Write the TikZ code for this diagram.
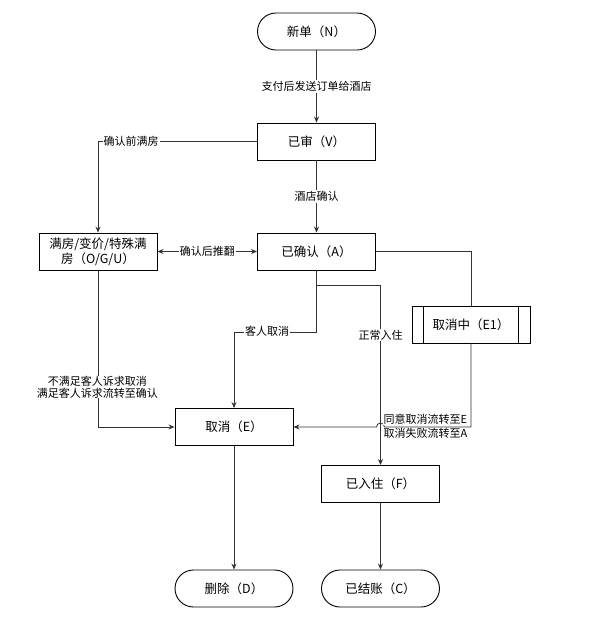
\documentclass[tikz,border=0pt]{standalone}
\usepackage{fontspec}
\setmainfont{Noto Sans CJK SC}
\usetikzlibrary{arrows.meta,calc}
\begin{document}
\begin{tikzpicture}[x=1pt,y=-1pt,
  box/.style={draw=black,line width=0.9pt,minimum width=118pt,minimum height=37pt,inner sep=0pt,font=\fontsize{12.5}{15}\selectfont,align=center},
  term/.style={box,rounded corners=18.5pt},
  conn/.style={draw=black!80,line width=0.8pt,-{Stealth[length=6pt,width=5pt]}},
  wire/.style={draw=black!80,line width=0.8pt},
  lbl/.style={fill=white,inner sep=1pt,font=\fontsize{11}{13}\selectfont,align=center}]
\useasboundingbox (0,0) rectangle (601,625);

% nodes
\node[term] (N) at (316.5,31.5) {新单（N）};
\node[box] (V) at (316.5,141.5) {已审（V）};
\node[box] (A) at (316.5,251.5) {已确认（A）};
\node[box] (O) at (98,251.5) {满房/变价/特殊满\\房（O/G/U）};
\node[box] (E1) at (471,324.5) {取消中（E1）};
\draw[line width=0.9pt] ([xshift=12pt]E1.north west) -- ([xshift=12pt]E1.south west);
\draw[line width=0.9pt] ([xshift=-12pt]E1.north east) -- ([xshift=-12pt]E1.south east);
\node[box] (E) at (234,427) {取消（E）};
\node[box] (F) at (380.5,484) {已入住（F）};
\node[term] (D) at (234,588.5) {删除（D）};
\node[term] (C) at (380.5,588.5) {已结账（C）};

% helper coordinates
\coordinate (aF) at ($(A.south)+(0,15)$);
\coordinate (aE) at ($(A.south)+(0,61.5)$);
\coordinate (jR) at (384.5,427);

% connectors
\draw[conn] (N) -- (V) node[lbl,midway] {支付后发送订单给酒店};
\draw[conn] (V) -- (A) node[lbl,midway] {酒店确认};
\draw[conn] (V.west) -| (O.north);
\node[lbl] (l1) at (131,141.5) {确认前满房};
\draw[conn,{Stealth[length=6pt,width=5pt]}-{Stealth[length=6pt,width=5pt]}] (O) -- (A) node[lbl,midway] {确认后推翻};
\draw[wire] (A.east) -| (E1.north);
\draw[conn] (A.south) -- (aF) -| (F.north);
\draw[conn] (A.south) -- (aE) -| (E.north);
\node[lbl] (l2) at (267,331.5) {客人取消};
\node[lbl] (l3) at (380.5,335) {正常入住};
\draw[conn] (E1.south) |- (jR) arc[start angle=0,end angle=-180,radius=4] -- (E.east);
\node[lbl,anchor=south west,inner sep=0.5pt] (l4) at (383,425) {同意取消流转至E};
\node[lbl,anchor=north west,inner sep=0.5pt] (l5) at (383,428) {取消失败流转至A};
\draw[conn] (O.south) |- (E.west);
\node[lbl,inner sep=0pt] (l6) at (97.5,387) {不满足客人诉求取消\\[-1pt]满足客人诉求流转至确认};
\draw[conn] (E) -- (D);
\draw[conn] (F) -- (C);
\end{tikzpicture}
\end{document}
